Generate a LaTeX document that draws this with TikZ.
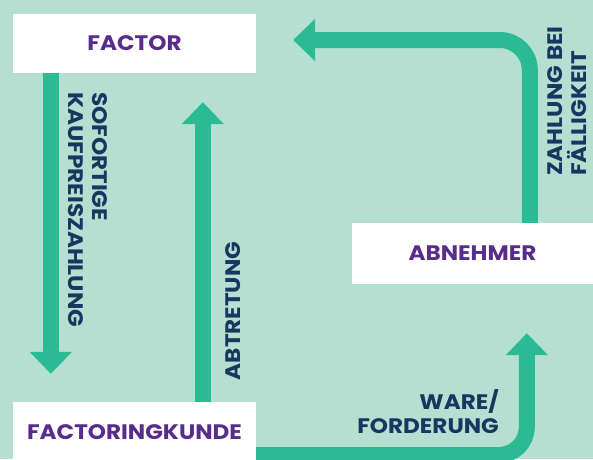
\documentclass[tikz,border=0pt]{standalone}
\usepackage{fontspec}
\setmainfont{Poppins}[FakeStretch=1.1]
\usetikzlibrary{arrows.meta}
\definecolor{mint}{HTML}{B5DFD0}
\definecolor{flowgreen}{HTML}{2ABA94}
\definecolor{boxpurple}{HTML}{582C8C}
\definecolor{labelnavy}{HTML}{16375F}
\begin{document}
\begin{tikzpicture}[x=1pt, y=-1pt,
        party/.style={rectangle, fill=white, inner sep=0pt, text=boxpurple, font=\fontsize{21}{24}\selectfont\bfseries},
        flow/.style={draw=flowgreen, line width=16pt, -{Triangle[width=41pt,length=22pt]}},
        lbl/.style={inner sep=0pt, text=labelnavy, font=\fontsize{21}{24}\selectfont\bfseries}]
        
        \fill[mint] (0,0) rectangle (593,459);
        \useasboundingbox (0,0) rectangle (593,459);
        
        \node[party, minimum width=243pt, minimum height=59pt] (factor) at (134.5,43.5) {FACTOR};
        \node[party, minimum width=241pt, minimum height=61pt] (abnehmer) at (472.5,253.5) {ABNEHMER};
        \node[party, minimum width=243pt, minimum height=60pt] (kunde) at (134.5,432) {FACTORINGKUNDE};
        
        \draw[flow] ([xshift=38pt]factor.south west) -- ([xshift=38pt,yshift=28pt]kunde.north west);
        \draw[flow] ([xshift=190pt]kunde.north west) -- ([xshift=190pt,yshift=-29pt]factor.south west);
        \draw[flow, rounded corners=30pt] ([xshift=178pt]abnehmer.north west) |- ([xshift=37pt,yshift=3.5pt]factor.east);
        \draw[flow, rounded corners=28pt] ([yshift=-23pt]kunde.east) -| ([xshift=175pt,yshift=-49pt]abnehmer.south west);
        
        \node[lbl, rotate=-90, align=left, anchor=west] (kauf) at (88,92) {SOFORTIGE\\KAUFPREISZAHLUNG};
        \node[lbl, rotate=90] (abtretung) at (233,311) {ABTRETUNG};
        \node[lbl, rotate=90, align=left, anchor=west, text depth=0pt] (zahlung) at (567,176) {ZAHLUNG BEI\\FÄLLIGKEIT};
        \node[lbl, align=right, anchor=east] (ware) at (499,412) {WARE/\\FORDERUNG};
\end{tikzpicture}
\end{document}
